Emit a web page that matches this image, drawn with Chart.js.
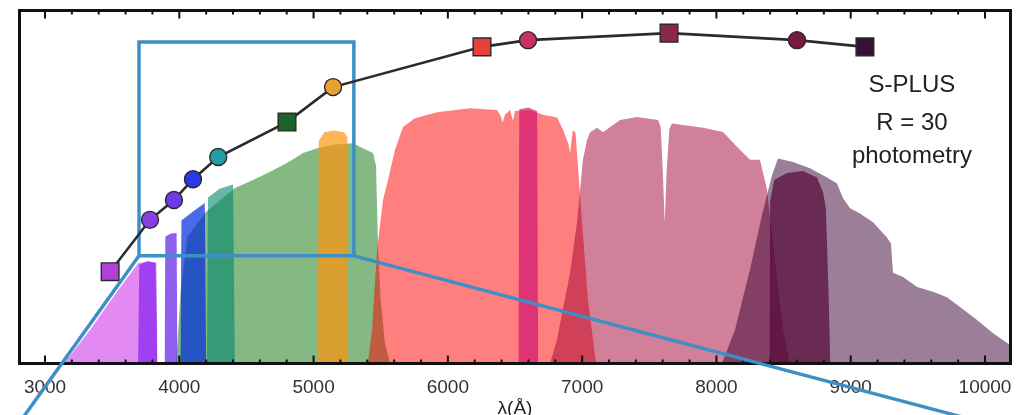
<!DOCTYPE html>
<html>
<head>
<meta charset="utf-8">
<script src="https://cdn.jsdelivr.net/npm/chart.js@4.4.1/dist/chart.umd.min.js"></script>
<style>
  html, body { margin: 0; padding: 0; background: #fff; overflow: hidden; }
  #wrap { width: 1017px; height: 430px; }
</style>
</head>
<body>
<div id="wrap"><canvas id="c" width="1017" height="430"></canvas></div>
<script>
// ---- S-PLUS synthetic photometry (normalised flux at each band's pivot wavelength)
const photBands  = ['uJAVA', 'J0378', 'J0395', 'J0410', 'J0430', 'gSDSS', 'J0515', 'rSDSS', 'J0660', 'iSDSS', 'J0861', 'zSDSS'];
const photLambda = [3485, 3782, 3960, 4102, 4290, 4802, 5145, 6254, 6597, 7647, 8600, 9106];
const photFlux   = [0.260, 0.407, 0.463, 0.522, 0.585, 0.684, 0.783, 0.897, 0.916, 0.936, 0.916, 0.897];
const broadBands = ['uJAVA', 'gSDSS', 'rSDSS', 'iSDSS', 'zSDSS'];

// ---- Filter throughput curves: [wavelength (Å), relative throughput]
const uJAVA = [[3140, 0], [3165, 0.012], [3335, 0.095], [3536, 0.203], [3693, 0.284], [3760, 0.29], [3820, 0.286], [3836, 0]];
const J0378 = [[3693, 0], [3702, 0.28], [3770, 0.29], [3828, 0.285], [3838, 0]];
const J0395 = [[3890, 0], [3896, 0.36], [3940, 0.368], [3980, 0.37], [3986, 0]];
const J0410 = [[4008, 0], [4016, 0.405], [4100, 0.43], [4190, 0.455], [4200, 0]];
const J0430 = [[4206, 0], [4214, 0.47], [4300, 0.495], [4400, 0.507], [4414, 0]];
const gSDSS = [[3975, 0], [4010, 0.2], [4060, 0.36], [4200, 0.43], [4415, 0.497], [4549, 0.52], [4676, 0.543], [4802, 0.568],
               [4921, 0.596], [5026, 0.61], [5145, 0.62], [5294, 0.624], [5398, 0.604], [5443, 0.596], [5465, 0.56],
               [5480, 0.33], [5500, 0.18], [5530, 0.06], [5569, 0]];
const J0515 = [[5030, 0], [5038, 0.63], [5080, 0.655], [5150, 0.66], [5230, 0.655], [5252, 0.64], [5260, 0]];
const rSDSS = [[5405, 0], [5435, 0.095], [5473, 0.322], [5517, 0.463], [5554, 0.52], [5606, 0.605], [5666, 0.67], [5755, 0.695],
               [5919, 0.712], [6165, 0.723], [6366, 0.718], [6395, 0.7], [6408, 0.683], [6425, 0.705], [6463, 0.718],
               [6485, 0.688], [6500, 0.715], [6612, 0.718], [6708, 0.705], [6813, 0.697], [6857, 0.663], [6900, 0.62],
               [6910, 0.595], [6930, 0.66], [6950, 0.655], [6965, 0.58], [6999, 0.4], [7044, 0.18], [7103, 0]];
const J0660 = [[6525, 0], [6532, 0.72], [6600, 0.725], [6665, 0.715], [6672, 0]];
const iSDSS = [[6761, 0], [6813, 0.068], [6910, 0.257], [6962, 0.4], [7006, 0.577], [7036, 0.633], [7059, 0.655], [7111, 0.668],
               [7155, 0.655], [7282, 0.69], [7409, 0.698], [7565, 0.69], [7585, 0.67], [7600, 0.55], [7615, 0.398],
               [7630, 0.55], [7650, 0.665], [7669, 0.68], [7900, 0.668], [8049, 0.656], [8153, 0.614], [8250, 0.577],
               [8324, 0.577], [8377, 0.492], [8436, 0.29], [8496, 0.095], [8548, 0]];
const J0861 = [[8395, 0], [8400, 0.46], [8430, 0.52], [8526, 0.54], [8645, 0.545], [8749, 0.527], [8794, 0.485],
               [8815, 0.44], [8835, 0.2], [8848, 0]];
const zSDSS = [[8041, 0], [8138, 0.095], [8250, 0.266], [8339, 0.42], [8414, 0.533], [8458, 0.581], [8570, 0.571],
               [8697, 0.553], [8824, 0.527], [8898, 0.51], [8943, 0.468], [8995, 0.44], [9069, 0.425], [9166, 0.4],
               [9270, 0.357], [9300, 0.34], [9315, 0.257], [9390, 0.245], [9494, 0.217], [9613, 0.203], [9717, 0.188],
               [9814, 0.16], [9941, 0.123], [10060, 0.086], [10190, 0.052], [10250, 0.04]];

// ---- Axis and inset-box values
const xRange = [2810, 10190];
const yRange = [0, 1];
const xMinorStep = 200;
const xMajorStep = 1000;
const zoomBoxLambda = [3700, 5300];
const zoomBoxFlux = [0.305, 0.911];
const zoomLeftEnd = [2748, -0.2];
const zoomRightEnd = [10313, -0.2];
const noteLines = ['S-PLUS', 'R = 30', 'photometry'];
const noteLambda = 9456;
const noteFluxTop = 0.77;

// ---- Styling
const FONT = '"Liberation Sans", Arial, Helvetica, sans-serif';
const curves = { uJAVA, J0378, J0395, J0410, J0430, gSDSS, J0515, rSDSS, J0660, iSDSS, J0861, zSDSS };
const drawOrder = ['gSDSS', 'rSDSS', 'iSDSS', 'zSDSS', 'uJAVA', 'J0378', 'J0395', 'J0410', 'J0430', 'J0515', 'J0660', 'J0861'];
const bandFill = {
  gSDSS: 'rgba(10,115,10,0.5)',  rSDSS: 'rgba(255,0,0,0.5)',   iSDSS: 'rgba(161,1,49,0.5)',
  zSDSS: 'rgba(55,0,50,0.5)',    uJAVA: 'rgba(200,20,230,0.5)', J0378: 'rgba(131,33,239,0.7)',
  J0395: 'rgba(96,28,233,0.7)',  J0410: 'rgba(0,42,222,0.7)',  J0430: 'rgba(0,135,108,0.6)',
  J0515: 'rgba(254,150,14,0.7)', J0660: 'rgba(200,0,110,0.6)', J0861: 'rgba(84,5,55,0.7)'
};
const markerColor = {
  uJAVA: '#b040d8', J0378: '#8a40e0', J0395: '#6f3aea', J0410: '#2a3ae6', J0430: '#1f9ea6', gSDSS: '#1e6228',
  J0515: '#e8a030', rSDSS: '#e8403c', J0660: '#cc2e68', iSDSS: '#8a2846', J0861: '#7a1a40', zSDSS: '#3a1030'
};
const boxBlue = '#3d8fc6';

const toXY = pairs => pairs.map(([x, y]) => ({ x, y }));

// tick positions every 200 Å inside the axis range
const xTickValues = [];
for (let v = Math.ceil(xRange[0] / xMinorStep) * xMinorStep; v <= xRange[1]; v += xMinorStep) xTickValues.push(v);

const datasets = [];
drawOrder.forEach((name, k) => {
  datasets.push({
    label: name,
    data: toXY(curves[name]),
    fill: 'origin',
    backgroundColor: bandFill[name],
    borderColor: 'rgba(0,0,0,0)',
    borderWidth: 0,
    pointRadius: 0,
    tension: 0,
    order: 100 - k
  });
});

// inset box outline
datasets.push({
  label: 'zoomBox',
  data: toXY([[zoomBoxLambda[0], zoomBoxFlux[0]], [zoomBoxLambda[0], zoomBoxFlux[1]], [zoomBoxLambda[1], zoomBoxFlux[1]],
              [zoomBoxLambda[1], zoomBoxFlux[0]], [zoomBoxLambda[0], zoomBoxFlux[0]]]),
  borderColor: boxBlue, borderWidth: 3.5, pointRadius: 0, fill: false, tension: 0,
  borderJoinStyle: 'miter', clip: false, order: 3
});

// photometry
const isBroad = photBands.map(b => broadBands.includes(b));
datasets.push({
  label: 'photometry',
  data: photLambda.map((x, i) => ({ x, y: photFlux[i] })),
  borderColor: '#2b2b2b', borderWidth: 2.6, tension: 0, fill: false,
  pointStyle: isBroad.map(b => (b ? 'rect' : 'circle')),
  pointRadius: isBroad.map(b => (b ? 12.5 : 8.5)),
  pointBackgroundColor: photBands.map(b => markerColor[b]),
  pointBorderColor: '#2a2a2a', pointBorderWidth: 1.4,
  order: 2
});

// lines leading from the inset box towards the enlarged panel
datasets.push({
  label: 'zoomLeft',
  data: toXY([[zoomBoxLambda[0], zoomBoxFlux[0]], zoomLeftEnd]),
  borderColor: boxBlue, borderWidth: 3.5, pointRadius: 0, fill: false, clip: false, order: 1
});
datasets.push({
  label: 'zoomRight',
  data: toXY([[zoomBoxLambda[1], zoomBoxFlux[0]], zoomRightEnd]),
  borderColor: boxBlue, borderWidth: 3.5, pointRadius: 0, fill: false, clip: false, order: 0
});

// frame with inward ticks (drawn right after the last filter), plus the text block
const framePlugin = {
  id: 'frame',
  afterDatasetDraw(chart, args) {
    if (chart.data.datasets[args.index].label !== drawOrder[drawOrder.length - 1]) return;
    const { ctx, chartArea: a, scales: { x } } = chart;
    ctx.save();
    ctx.strokeStyle = '#111';
    ctx.lineWidth = 3;
    ctx.strokeRect(a.left, a.top, a.right - a.left, a.bottom - a.top);
    ctx.lineWidth = 2;
    x.ticks.forEach(t => {
      const v = Math.round(t.value);
      const px = x.getPixelForValue(v);
      const len = v % xMajorStep === 0 ? 8 : 4;
      ctx.beginPath();
      ctx.moveTo(px, a.bottom); ctx.lineTo(px, a.bottom - len);
      ctx.moveTo(px, a.top); ctx.lineTo(px, a.top + len);
      ctx.stroke();
    });
    ctx.restore();
  },
  afterDraw(chart) {
    const { ctx, scales: { x, y } } = chart;
    ctx.save();
    ctx.font = '24px ' + FONT;
    ctx.fillStyle = '#222';
    ctx.textAlign = 'center';
    ctx.textBaseline = 'alphabetic';
    const cx = x.getPixelForValue(noteLambda);
    const top = y.getPixelForValue(noteFluxTop);
    const steps = [0, 38, 71];
    noteLines.forEach((s, i) => ctx.fillText(s, cx, top + steps[i]));
    ctx.restore();
  }
};

new Chart(document.getElementById('c'), {
  type: 'line',
  data: { datasets },
  plugins: [framePlugin],
  options: {
    responsive: false,
    animation: false,
    devicePixelRatio: 1,
    events: [],
    layout: { autoPadding: false, padding: { left: 19.5, right: 6.5, top: 10.5, bottom: 0 } },
    plugins: { legend: { display: false }, tooltip: { enabled: false } },
    scales: {
      x: {
        type: 'linear', position: 'bottom', min: xRange[0], max: xRange[1],
        grid: { display: false, drawTicks: false }, border: { display: false },
        afterBuildTicks: s => { s.ticks = xTickValues.map(value => ({ value })); },
        ticks: {
          autoSkip: false, maxRotation: 0, padding: 12.6,
          color: '#333', font: { family: FONT, size: 19 },
          callback: v => (Math.round(v) % xMajorStep === 0 ? String(Math.round(v)) : '')
        },
        title: { display: true, text: 'λ(Å)', color: '#222', font: { family: FONT, size: 19 }, padding: { top: 0, bottom: 9.6 } },
        afterFit: s => { s.height = 66.5; s.paddingLeft = 0; s.paddingRight = 0; }
      },
      y: { type: 'linear', min: yRange[0], max: yRange[1], display: false }
    }
  }
});
</script>
</body>
</html>
